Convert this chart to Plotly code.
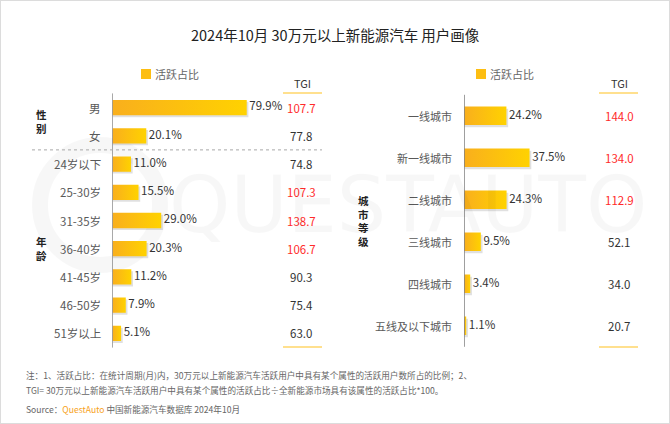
import plotly.graph_objects as go

W, H = 670, 424

# left panel: gender + age
left_categories = ["男", "女", "24岁以下", "25-30岁", "31-35岁", "36-40岁", "41-45岁", "46-50岁", "51岁以上"]
left_share = [79.9, 20.1, 11.0, 15.5, 29.0, 20.3, 11.2, 7.9, 5.1]
left_tgi = [107.7, 77.8, 74.8, 107.3, 138.7, 106.7, 90.3, 75.4, 63.0]
left_groups = [("性别", 0, 1), ("年龄", 2, 8)]

# right panel: city tier
city_categories = ["一线城市", "新一线城市", "二线城市", "三线城市", "四线城市", "五线及以下城市"]
city_share = [24.2, 37.5, 24.3, 9.5, 3.4, 1.1]
city_tgi = [144.0, 134.0, 112.9, 52.1, 34.0, 20.7]
city_groups = [("城市等级", 0, 5)]

title = "2024年10月 30万元以上新能源汽车 用户画像"
legend_name = "活跃占比"
notes = [
    "注：1、活跃占比：在统计周期(月)内，30万元以上新能源汽车活跃用户中具有某个属性的活跃用户数所占的比例；2、",
    "TGI= 30万元以上新能源汽车活跃用户中具有某个属性的活跃占比÷全新能源市场具有该属性的活跃占比*100。",
]
source = "Source：<span style='color:#F7A21B'>QuestAuto</span> 中国新能源汽车数据库 2024年10月"

FONT = "Noto Sans CJK SC"
GRAD = [[0, "#F9AF1D"], [1, "#FFD200"]]


def px(x):
    return x / W


def py(y):
    return 1 - y / H


fig = go.Figure()
annotations = []
shapes = []


def add_panel(cats, share, tgi, groups, xa, ya, half_h, xshadow, yshadow, tgi_x, group_x, label_size):
    xref = "x" if xa == 1 else f"x{xa}"
    yref = "y" if ya == 1 else f"y{ya}"
    for i, v in enumerate(share):
        # soft shadow
        fig.add_trace(go.Scatter(
            x=[0, v + xshadow, v + xshadow, 0, 0],
            y=[i - half_h + yshadow, i - half_h + yshadow, i + half_h + yshadow, i + half_h + yshadow, i - half_h + yshadow],
            fill="toself", fillcolor="rgba(0,0,0,0.12)", mode="lines", line=dict(width=0),
            xaxis=xref, yaxis=yref, hoverinfo="skip", showlegend=False))
        fig.add_trace(go.Scatter(
            x=[0, v, v, 0, 0],
            y=[i - half_h, i - half_h, i + half_h, i + half_h, i - half_h],
            fill="toself", mode="lines", line=dict(width=0),
            fillgradient=dict(type="horizontal", colorscale=GRAD),
            xaxis=xref, yaxis=yref, hoverinfo="skip", showlegend=False))
    fig.add_trace(go.Scatter(
        x=share, y=list(range(len(share))), mode="text",
        text=[f" {v:.1f}%" for v in share], textposition="middle right",
        textfont=dict(family=FONT, size=11.5, color="#333333"),
        xaxis=xref, yaxis=yref, hoverinfo="skip", showlegend=False))
    for i, c in enumerate(cats):
        annotations.append(dict(x=0, y=i, xref=xref, yref=yref, text=c, showarrow=False,
                                xanchor="right", yanchor="middle", xshift=-10,
                                font=dict(family=FONT, size=label_size, color="#595959")))
        annotations.append(dict(x=px(tgi_x), y=i, xref="paper", yref=yref, text=f"{tgi[i]:.1f}",
                                showarrow=False, xanchor="center", yanchor="middle",
                                font=dict(family=FONT, size=11.5,
                                          color="#FF2B2B" if tgi[i] > 100 else "#333333")))
    for name, a, b in groups:
        annotations.append(dict(x=px(group_x), y=(a + b) / 2, xref="paper", yref=yref,
                                text="<b>" + "<br>".join(name) + "</b>",
                                showarrow=False, xanchor="center", yanchor="middle",
                                font=dict(family=FONT, size=10.5, color="#222222")))
    # axis line
    shapes.append(dict(type="line", xref=xref, yref=f"{yref} domain", x0=0, x1=0, y0=0, y1=1,
                       line=dict(color="#555555", width=1)))


add_panel(left_categories, left_share, left_tgi, left_groups, 1, 1, 0.27, 1.0, 0.07, 301, 41, 11.5)
add_panel(city_categories, city_share, city_tgi, city_groups, 2, 2, 0.22, 1.0, 0.05, 619, 364, 11)

# dotted separator between gender and age
shapes.append(dict(type="line", xref="paper", yref="y", x0=px(32), x1=px(322), y0=1.5, y1=1.5,
                   line=dict(color="#A8A8A8", width=1, dash="dot")))

# TGI headers, underline bars, legends
for hx, l0, l1, lx in [(302, 283, 322, 141), (619, 599, 638, 476)]:
    annotations.append(dict(x=px(hx), y=py(83), xref="paper", yref="paper", text="TGI", showarrow=False,
                            xanchor="center", yanchor="middle",
                            font=dict(family=FONT, size=11, color="#333333")))
    for yy in (93, 347):
        shapes.append(dict(type="line", xref="paper", yref="paper", x0=px(l0), x1=px(l1), y0=py(yy), y1=py(yy),
                           line=dict(color="#FFE08E", width=2)))
    shapes.append(dict(type="rect", xref="paper", yref="paper", x0=px(lx), x1=px(lx + 10),
                       y0=py(79), y1=py(69), fillcolor="#FDBE12", line=dict(width=0)))
    annotations.append(dict(x=px(lx + 12), y=py(74), xref="paper", yref="paper", text=legend_name,
                            showarrow=False, xanchor="left", yanchor="middle",
                            font=dict(family=FONT, size=11, color="#666666")))

# watermark
annotations.append(dict(x=px(408), y=py(205), xref="paper", yref="paper", text="QUESTAUTO", showarrow=False,
                        xanchor="center", yanchor="middle",
                        font=dict(family="DejaVu Sans", size=78, color="rgba(0,0,0,0.03)")))
shapes.append(dict(type="circle", xref="paper", yref="paper", x0=px(40), x1=px(160), y0=py(265), y1=py(145),
                   line=dict(color="rgba(0,0,0,0.03)", width=16), layer="below"))

# title & notes
annotations.append(dict(x=0.5, y=py(34), xref="paper", yref="paper", text=title, showarrow=False,
                        xanchor="center", yanchor="middle",
                        font=dict(family=FONT, size=14.5, color="#222222")))
for t, yy in zip(notes + [source], (375, 390, 409)):
    annotations.append(dict(x=px(24), y=py(yy), xref="paper", yref="paper", text=t, showarrow=False,
                            xanchor="left", yanchor="middle",
                            font=dict(family=FONT, size=8.6, color="#666666")))

# frame
shapes.append(dict(type="rect", xref="paper", yref="paper", x0=0, x1=1, y0=0, y1=1,
                   line=dict(color="#DCDCDC", width=2)))

fig.update_layout(
    width=W, height=H, margin=dict(l=0, r=0, t=0, b=0),
    paper_bgcolor="white", plot_bgcolor="rgba(0,0,0,0)",
    xaxis=dict(domain=[px(112.5), px(112.5 + 1.68 * 120)], range=[0, 120], visible=False, fixedrange=True),
    yaxis=dict(domain=[py(347.6), py(93.4)], range=[8.5, -0.5], visible=False, fixedrange=True),
    xaxis2=dict(domain=[px(464.3), px(464.3 + 1.74 * 100)], range=[0, 100], visible=False, fixedrange=True),
    yaxis2=dict(domain=[py(346.8), py(94.8)], range=[5.5, -0.5], visible=False, fixedrange=True, anchor="x2"),
    annotations=annotations, shapes=shapes, showlegend=False,
)

fig.write_html("out.html", config={"displayModeBar": False},
               post_script="document.body.style.margin='0px';")
